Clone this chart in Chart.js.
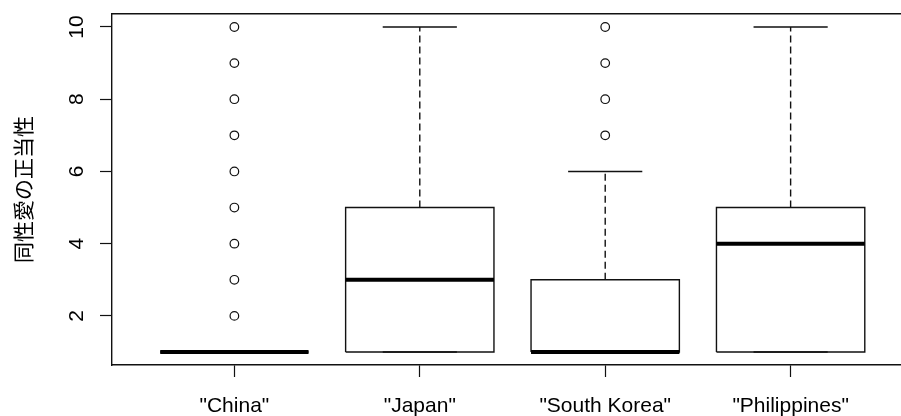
<!DOCTYPE html>
<html>
<head>
<meta charset="utf-8">
<script src="https://cdn.jsdelivr.net/npm/chart.js@4/dist/chart.umd.min.js"></script>
<style>
  html, body { margin: 0; padding: 0; background: #fff; }
  #wrap { width: 901px; height: 416px; overflow: hidden; position: relative; }
  canvas { display: block; }
</style>
</head>
<body>
<div id="wrap"><canvas id="c" width="940" height="416"></canvas></div>
<script>
// Box plot summary per country
const categories = ['"China"', '"Japan"', '"South Korea"', '"Philippines"'];
const lowerWhisker = [1, 1, 1, 1];
const q1 = [1, 1, 1, 1];
const median = [1, 3, 1, 4];
const q3 = [1, 5, 3, 5];
const upperWhisker = [1, 10, 6, 10];
const outliers = [[2, 3, 4, 5, 6, 7, 8, 9, 10], [], [7, 8, 9, 10], []];
const yTicks = [2, 4, 6, 8, 10];
const yTitle = '同性愛の正当性';

const BOX_HALF = 0.4;
const STAPLE_HALF = 0.2;
const GAP = { x: null, y: null };

// Build line-segment data from the summary arrays
const boxPts = [], medPts = [], whiskPts = [], staplePts = [], outPts = [];
categories.forEach((_, i) => {
  const x = i + 1;
  boxPts.push(
    { x: x - BOX_HALF, y: q1[i] }, { x: x + BOX_HALF, y: q1[i] },
    { x: x + BOX_HALF, y: q3[i] }, { x: x - BOX_HALF, y: q3[i] },
    { x: x - BOX_HALF, y: q1[i] }, GAP);
  medPts.push({ x: x - BOX_HALF, y: median[i] }, { x: x + BOX_HALF, y: median[i] }, GAP);
  whiskPts.push({ x: x, y: q3[i] }, { x: x, y: upperWhisker[i] }, GAP);
  whiskPts.push({ x: x, y: q1[i] }, { x: x, y: lowerWhisker[i] }, GAP);
  staplePts.push({ x: x - STAPLE_HALF, y: upperWhisker[i] }, { x: x + STAPLE_HALF, y: upperWhisker[i] }, GAP);
  staplePts.push({ x: x - STAPLE_HALF, y: lowerWhisker[i] }, { x: x + STAPLE_HALF, y: lowerWhisker[i] }, GAP);
  outliers[i].forEach(v => outPts.push({ x: x, y: v }));
});

const INK = '#111';
const seg = (data, extra) => Object.assign({
  data, borderColor: INK, borderWidth: 1.4, pointRadius: 0, spanGaps: false,
  fill: false, tension: 0, borderCapStyle: 'butt'
}, extra);

const X_MIN = 0.34, X_MAX = 4.66, Y_MIN = 0.64, Y_MAX = 10.36;
const tickFont = { family: "'Liberation Sans', Arial, sans-serif", size: 21 };

new Chart(document.getElementById('c'), {
  type: 'line',
  data: {
    datasets: [
      seg(whiskPts, { borderDash: [7, 4], order: 4 }),
      seg(staplePts, { order: 3 }),
      seg(boxPts, { order: 2 }),
      seg(medPts, { borderWidth: 4, borderColor: '#000', order: 1 }),
      {
        data: outPts, showLine: false, order: 0,
        pointStyle: 'circle', pointRadius: 4.3, pointBorderWidth: 1.2,
        pointBorderColor: INK, pointBackgroundColor: 'rgba(0,0,0,0)'
      }
    ]
  },
  options: {
    responsive: false,
    animation: false,
    devicePixelRatio: 1,
    layout: { padding: { left: 0, right: 27, top: 14, bottom: 0 } },
    plugins: { legend: { display: false }, tooltip: { enabled: false } },
    scales: {
      x: {
        type: 'linear', position: 'bottom', min: X_MIN, max: X_MAX,
        afterBuildTicks: s => { s.ticks = categories.map((_, i) => ({ value: i + 1 })); },
        afterFit: s => { s.height = 51; s.paddingLeft = 0; s.paddingRight = 0; },
        ticks: {
          autoSkip: false, maxRotation: 0, minRotation: 0, padding: 17,
          color: '#000', font: tickFont,
          callback: v => categories[Math.round(v) - 1] || ''
        },
        grid: { drawOnChartArea: false, drawTicks: true, tickLength: 12, tickColor: INK, tickWidth: 1.2 },
        border: { display: true, color: INK, width: 1.4 }
      },
      xTop: {
        type: 'linear', position: 'top', min: X_MIN, max: X_MAX,
        afterFit: s => { s.height = 0; s.paddingLeft = 0; s.paddingRight = 0; },
        ticks: { display: false },
        grid: { display: false, drawTicks: false },
        border: { display: true, color: INK, width: 1.4 }
      },
      y: {
        type: 'linear', position: 'left', min: Y_MIN, max: Y_MAX,
        afterBuildTicks: s => { s.ticks = yTicks.map(v => ({ value: v })); },
        afterFit: s => { s.width = 112; s.paddingTop = 0; s.paddingBottom = 0; },
        ticks: {
          minRotation: 90, maxRotation: 90, crossAlign: 'center', padding: 11,
          color: '#000', font: tickFont,
          callback: v => String(v)
        },
        grid: { drawOnChartArea: false, drawTicks: true, tickLength: 12, tickColor: INK, tickWidth: 1.2 },
        border: { display: true, color: INK, width: 1.4 },
        title: {
          display: true, text: yTitle, color: '#000',
          font: { family: "'Noto Sans CJK JP', sans-serif", size: 21 },
          padding: { top: 10, bottom: 0 }
        }
      }
    }
  }
});
</script>
</body>
</html>
